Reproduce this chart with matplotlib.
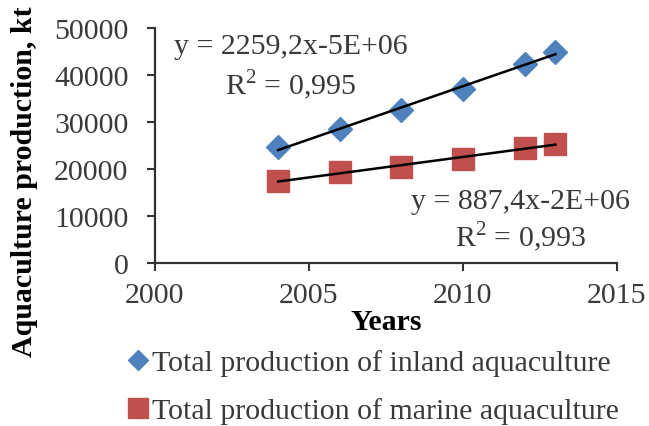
import numpy as np
import matplotlib
matplotlib.use("Agg")
import matplotlib.pyplot as plt
from matplotlib.lines import Line2D

years = [2004, 2006, 2008, 2010, 2012, 2013]
inland = [24600, 28500, 32500, 37000, 42400, 44900]
marine = [17500, 19300, 20400, 22200, 24500, 25400]
labels = ["Total production of inland aquaculture",
          "Total production of marine aquaculture"]
eq_inland = ["y = 2259,2x-5E+06", "R$^2$ = 0,995"]
eq_marine = ["y = 887,4x-2E+06", "R$^2$ = 0,993"]
xticks = [2000, 2005, 2010, 2015]
yticks = [0, 10000, 20000, 30000, 40000, 50000]

plt.rcParams['font.family'] = ['Liberation Serif', 'DejaVu Serif']
plt.rcParams['mathtext.fontset'] = 'custom'
plt.rcParams['mathtext.rm'] = 'Liberation Serif'

FS = 21.5
W, H = 649, 427
fig = plt.figure(figsize=(W / 100, H / 100), dpi=100)
ax = fig.add_axes([155 / W, 1 - 264 / H, (617 - 155) / W, (264 - 29) / H])

blue = '#4F81BD'
red = '#C0504D'
txt = '#3a3a3a'

ax.plot(years, inland, linestyle='none', marker='D', markersize=12.5,
        color=blue, zorder=3)
ax.plot(years, marine, linestyle='none', marker='s', markersize=16,
        color=red, zorder=3)

for ser in (inland, marine):
    p = np.polyfit(years, ser, 1)
    xs = np.array([years[0], years[-1]])
    ax.plot(xs, np.polyval(p, xs), color='black', linewidth=1.8, zorder=4)

ax.set_xlim(2000, 2015)
ax.set_ylim(0, 50000)
ax.set_xticks(xticks)
ax.set_yticks(yticks)
ax.tick_params(labelsize=FS, colors='#333333', length=6, width=1.5,
               direction='out', labelcolor=txt)
ax.tick_params(axis='y', pad=13)
ax.tick_params(axis='x', pad=8)
for s in ('top', 'right'):
    ax.spines[s].set_visible(False)
for s in ('left', 'bottom'):
    ax.spines[s].set_linewidth(1.6)
    ax.spines[s].set_color('#333333')

ax.set_xlabel("Years", fontsize=FS, fontweight='bold')
ax.xaxis.set_label_coords(0.5, -(322 - 264) / 235)
ax.set_ylabel("Aquaculture production, kt", fontsize=FS, fontweight='bold')
ax.yaxis.set_label_coords(-(155 - 25) / 462, (264 - 182) / 235)
ax.xaxis.label.set_va('center')
ax.yaxis.label.set_va('center')

for (s, x, y) in [(eq_inland[0], 291, 47), (eq_inland[1], 291, 85),
                  (eq_marine[0], 520, 202), (eq_marine[1], 521, 237)]:
    fig.text(x / W, 1 - y / H, s, ha='center', va='center',
             fontsize=FS, color=txt)

handles = [Line2D([], [], linestyle='none', marker='D', markersize=10.5, color=blue),
           Line2D([], [], linestyle='none', marker='s', markersize=14, color=red)]
fig.legend(handles, labels, loc='upper left', bbox_to_anchor=(128 / W, 1 - 350 / H),
           frameon=False, fontsize=FS, handlelength=0.7, handletextpad=0.1,
           labelspacing=0.72, borderaxespad=0, borderpad=0, labelcolor=txt)

fig.savefig("out.png", dpi=100)
